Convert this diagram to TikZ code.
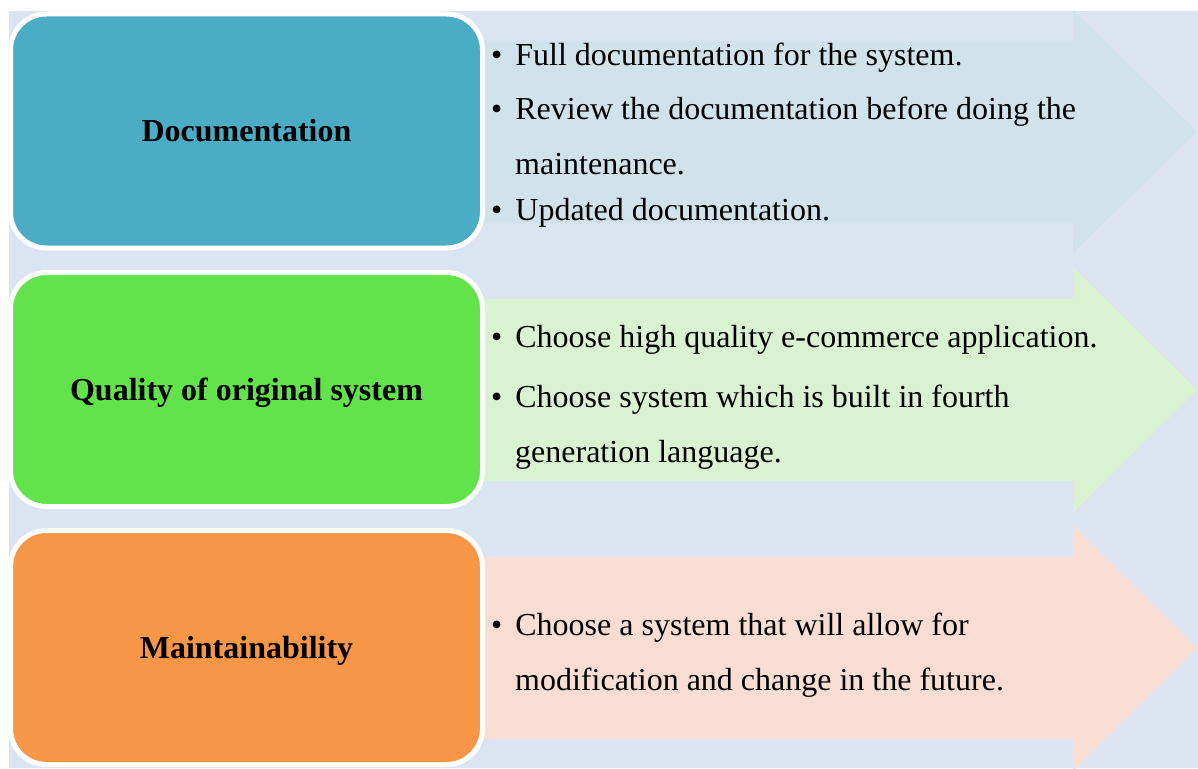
\documentclass[tikz,border=0pt]{standalone}
\usepackage{fontspec}
\setmainfont{Liberation Serif}
\usepackage{tikz}

\definecolor{pagebg}{HTML}{DBE4F0}
\definecolor{docfill}{HTML}{4BACC6}
\definecolor{qualfill}{HTML}{63E34B}
\definecolor{maintfill}{HTML}{F79646}
\definecolor{docarrow}{HTML}{D1E3EA}
\definecolor{qualarrow}{HTML}{D8F2D2}
\definecolor{maintarrow}{HTML}{F8DDD2}

\begin{document}
\begin{tikzpicture}[x=1pt, y=-1pt,
		topic/.style={draw=white, line width=5pt, rounded corners=36pt, minimum width=472pt, minimum height=234pt,
			font=\fontsize{32}{38}\selectfont\bfseries, text height=21pt, text depth=0pt},
		item/.style={anchor=base west, inner sep=0pt, align=left, font=\fontsize{32}{55}\selectfont}]
					\useasboundingbox (0, 0) rectangle (1198, 768);
					\fill[white] (0, 0) rectangle (1198, 768);
					\fill[pagebg] (9, 11) rectangle (1198, 768);

					\fill[docarrow] (470, 41) -- (1073, 41) -- (1073, 10) -- (1197, 131.5) -- (1073, 253) -- (1073, 223) -- (470, 223) -- cycle;
					\fill[qualarrow] (470, 299) -- (1073, 299) -- (1073, 267) -- (1197, 390) -- (1073, 513) -- (1073, 481) -- (470, 481) -- cycle;
					\fill[maintarrow] (470, 557) -- (1073, 557) -- (1073, 525) -- (1197, 648) -- (1073, 771) -- (1073, 739) -- (470, 739) -- cycle;

					\node[topic, fill=docfill] (doc) at (246.5, 131) {Documentation};
					\node[topic, fill=qualfill] (qual) at (246.5, 389.5) {Quality of original system};
					\node[topic, fill=maintfill] (maint) at (246.5, 647.5) {Maintainability};

					\node[item] (doc1) at (491, 66) {\textbullet\hspace{13pt}Full documentation for the system.};
					\node[item] (doc2) at (491, 174) {\textbullet\hspace{13pt}Review the documentation before doing the\\\hspace*{24pt}maintenance.};
					\node[item] (doc3) at (491, 220) {\textbullet\hspace{13pt}Updated documentation.};

					\node[item] (qual1) at (491, 347) {\textbullet\hspace{13pt}Choose high quality e-commerce application.};
					\node[item] (qual2) at (491, 462) {\textbullet\hspace{13pt}Choose system which is built in fourth\\\hspace*{24pt}generation language.};

					\node[item] (maint1) at (491, 690) {\textbullet\hspace{13pt}Choose a system that will allow for\\\hspace*{24pt}modification and change in the future.};
				\end{tikzpicture}
\end{document}
